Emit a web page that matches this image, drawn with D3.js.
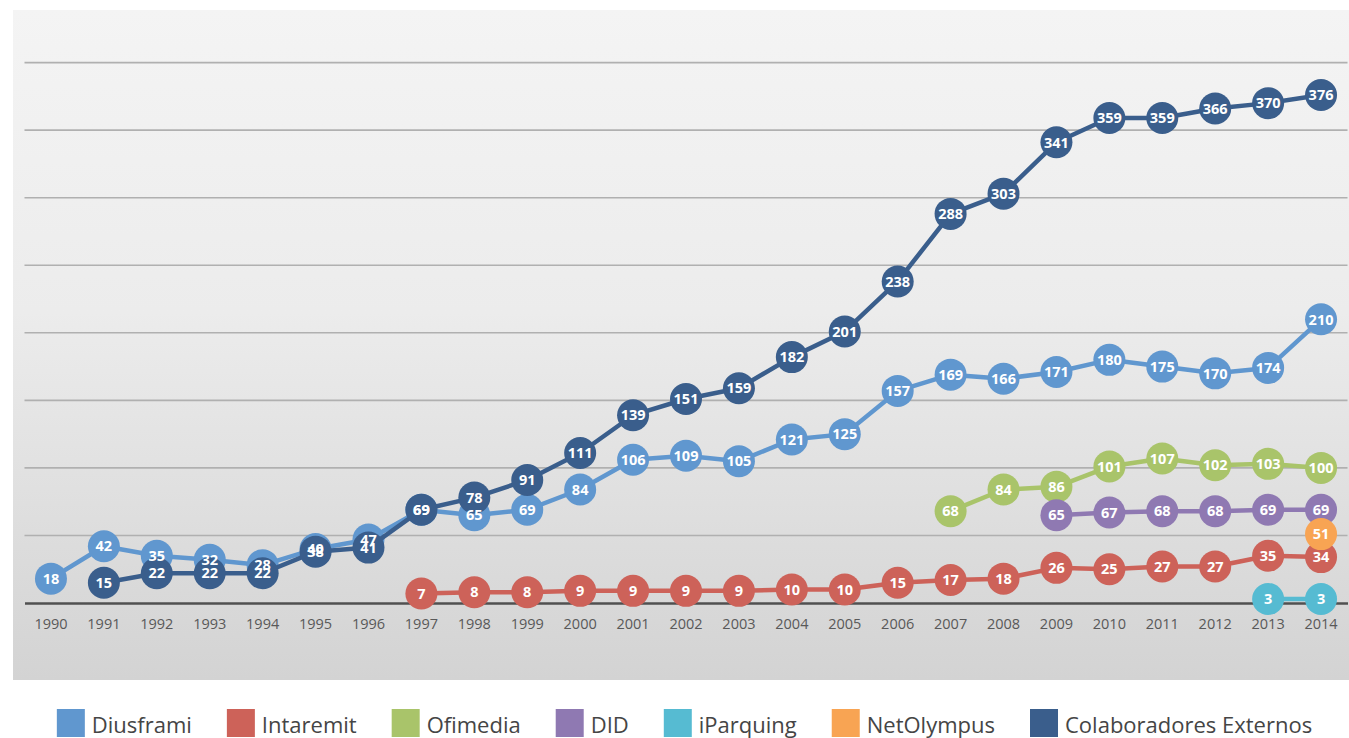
<!DOCTYPE html>
<html>
<head>
<meta charset="utf-8">
<script src="https://cdn.jsdelivr.net/npm/d3@7"></script>
<style>
  html, body { margin: 0; padding: 0; background: #ffffff; }
  svg { display: block; }
</style>
</head>
<body>
<svg id="chart" width="1349" height="738"></svg>
<script>
// Years on the category axis
const years = ["1990","1991","1992","1993","1994","1995","1996","1997","1998","1999","2000","2001",
  "2002","2003","2004","2005","2006","2007","2008","2009","2010","2011","2012","2013","2014"];

// Staff per company and year (null = company not yet active)
const diusframi = [18,42,35,32,28,40,47,69,65,69,84,106,109,105,121,125,157,169,166,171,180,175,170,174,210];
const intaremit = [null,null,null,null,null,null,null,7,8,8,9,9,9,9,10,10,15,17,18,26,25,27,27,35,34];
const ofimedia = [null,null,null,null,null,null,null,null,null,null,null,null,null,null,null,null,null,68,84,86,101,107,102,103,100];
const did = [null,null,null,null,null,null,null,null,null,null,null,null,null,null,null,null,null,null,null,65,67,68,68,69,69];
const iparquing = [null,null,null,null,null,null,null,null,null,null,null,null,null,null,null,null,null,null,null,null,null,null,null,3,3];
const netolympus = [null,null,null,null,null,null,null,null,null,null,null,null,null,null,null,null,null,null,null,null,null,null,null,null,51];
const colaboradores = [null,15,22,22,22,38,41,69,78,91,111,139,151,159,182,201,238,288,303,341,359,359,366,370,376];

const seriesNames = ["Diusframi","Intaremit","Ofimedia","DID","iParquing","NetOlympus","Colaboradores Externos"];
const seriesValues = [diusframi, intaremit, ofimedia, did, iparquing, netolympus, colaboradores];
const seriesColors = ["#6097cf","#cd6259","#a9c46a","#8f79b2","#56bbd2","#f8a453","#3a5e8c"];

// Value axis gridlines every 50
const yTicks = [0,50,100,150,200,250,300,350,400];

const svg = d3.select("#chart");
const W = 1349, H = 738;

// Chart area panel with soft vertical gradient
const defs = svg.append("defs");
const grad = defs.append("linearGradient").attr("id","panelGrad")
  .attr("x1",0).attr("y1",0).attr("x2",0).attr("y2",1);
grad.append("stop").attr("offset","0%").attr("stop-color","#f4f4f4");
grad.append("stop").attr("offset","45%").attr("stop-color","#ececec");
grad.append("stop").attr("offset","100%").attr("stop-color","#d3d3d3");

svg.append("rect").attr("x",13).attr("y",10).attr("width",W-13).attr("height",670)
  .attr("fill","url(#panelGrad)");

const plot = { left: 24.5, right: 1347.5, bottom: 603 };

const x = d3.scaleBand().domain(years).range([plot.left, plot.right]);
const y = d3.scaleLinear().domain([0, 400]).range([plot.bottom, plot.bottom - 400*1.351]);
const cx = d => x(d) + x.bandwidth()/2;

// Horizontal gridlines
svg.append("g").selectAll("line").data(yTicks.filter(t => t > 0)).join("line")
  .attr("x1", plot.left).attr("x2", plot.right)
  .attr("y1", d => y(d)).attr("y2", d => y(d))
  .attr("stroke","#b0b0b0").attr("stroke-width",1.6);

// Category axis with baseline
const xAxis = svg.append("g").attr("transform",`translate(0,${plot.bottom})`)
  .call(d3.axisBottom(x).tickSize(0).tickPadding(16));
xAxis.select(".domain").attr("stroke","#505050").attr("stroke-width",2.6);
xAxis.selectAll("text").attr("fill","#595959").attr("font-size",14.5)
  .attr("font-family","'Open Sans', sans-serif");

// Lines and markers, one group per series
const line = d3.line().defined(d => d.v != null).x(d => cx(d.year)).y(d => y(d.v));

const series = seriesNames.map((name, i) => ({
  name, color: seriesColors[i],
  points: years.map((yr, j) => ({ year: yr, v: seriesValues[i][j] }))
}));

const groups = svg.append("g").selectAll("g").data(series).join("g");
groups.append("path")
  .attr("d", s => line(s.points))
  .attr("fill","none").attr("stroke", s => s.color).attr("stroke-width",4.5)
  .attr("stroke-linejoin","round");
groups.selectAll("circle").data(s => s.points.filter(p => p.v != null).map(p => ({...p, color: s.color})))
  .join("circle")
  .attr("cx", d => cx(d.year)).attr("cy", d => y(d.v)).attr("r",16)
  .attr("fill", d => d.color);

// Value labels on top of every marker
const labels = svg.append("g");
series.forEach(s => {
  labels.selectAll(null).data(s.points.filter(p => p.v != null)).join("text")
    .attr("x", d => cx(d.year)).attr("y", d => y(d.v))
    .attr("dy","0.36em").attr("text-anchor","middle")
    .attr("fill","#ffffff").attr("font-size",14.5).attr("font-weight",700)
    .attr("font-family","'Open Sans', sans-serif")
    .text(d => d.v);
});

// Legend: swatch + name, centred under the chart
const legend = svg.append("g");
const items = legend.selectAll("g").data(series).join("g");
items.append("rect").attr("width",28).attr("height",28).attr("y",709).attr("fill", s => s.color);
items.append("text").attr("x",35).attr("y",733)
  .attr("fill","#454545").attr("font-size",22)
  .attr("font-family","'Open Sans', sans-serif")
  .text(s => s.name);
const gap = 35;
const widths = [];
items.each(function() {
  const t = d3.select(this).select("text").node().getComputedTextLength();
  widths.push(35 + t);
});
const total = d3.sum(widths) + gap*(widths.length-1);
let start = 684.5 - total/2;
items.each(function(d, i) {
  d3.select(this).attr("transform", `translate(${start},0)`);
  start += widths[i] + gap;
});
</script>
</body>
</html>
